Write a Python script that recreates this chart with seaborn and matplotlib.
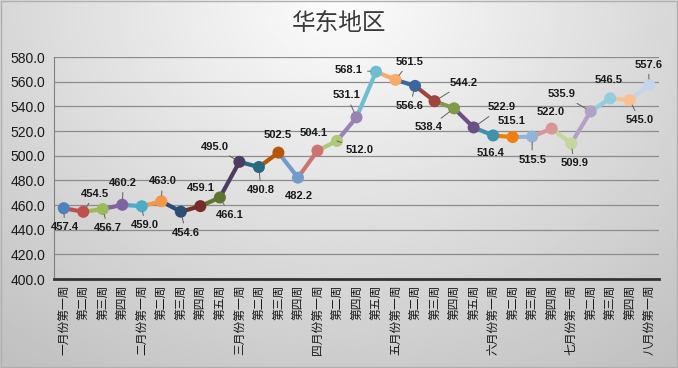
import numpy as np
import pandas as pd
import seaborn as sns
import matplotlib.pyplot as plt

# Datos
semanas = ['一月份第一周', '第二周', '第三周', '第四周',
           '二月份第一周', '第二周', '第三周', '第四周', '第五周',
           '三月份第一周', '第二周', '第三周', '第四周',
           '四月份第一周', '第二周', '第四周', '第五周',
           '五月份第一周', '第二周', '第三周', '第四周', '第五周',
           '六月份第一周', '第二周', '第三周', '第四周',
           '七月份第一周', '第二周', '第三周', '第四周',
           '八月份第一周']
precios = [457.4, 454.5, 456.7, 460.2, 459.0, 463.0, 454.6, 459.1, 466.1,
           495.0, 490.8, 502.5, 482.2, 504.1, 512.0, 531.1, 568.1, 561.5,
           556.6, 544.2, 538.4, 522.9, 516.4, 515.1, 515.5, 522.0, 509.9,
           535.9, 546.5, 545.0, 557.6]
y_ticks = [400, 420, 440, 460, 480, 500, 520, 540, 560, 580]

# Colores tipo Excel "variar colores por punto"
colores = ['#4F81BD', '#C0504D', '#9BBB59', '#8064A2', '#4BACC6', '#F79646',
           '#2C4D75', '#772C2A', '#5F7530', '#4D3B62', '#276A7C', '#B65708',
           '#729ACA', '#CD7371', '#AFC97A', '#9983B5', '#6FBDD1', '#F9AB6B',
           '#3A679C', '#9F4240', '#7F9A48', '#6A5084', '#3F92A9', '#F07F09',
           '#95B3D7', '#D99694', '#C3D69B', '#B2A1C7', '#93CDDD', '#FAC090',
           '#C6D4EA']

# Desplazamiento de las etiquetas (pixeles)
offsets = [(1, -19), (12, 18), (5, -19), (1, 22), (3, -19), (1, 20), (5, -21),
           (0, 18), (10, -17), (-25, 15), (2, -23), (-1, 18), (1, -18), (-4, 18),
           (23, -9), (-10, 22), (-27, 2), (14, 18), (-5, -20), (29, 18),
           (-25, -19), (28, 20), (-3, -18), (-1, 16), (0, -23), (-1, 17),
           (3, -20), (-29, 17), (-2, 18), (10, -20), (-1, 20)]

sns.set_style('white')
plt.rcParams['font.family'] = ['Liberation Sans', 'Noto Sans CJK SC', 'DejaVu Sans']

fig = plt.figure(figsize=(6.78, 3.68), dpi=100)

# Fondo con degradado gris
bg = fig.add_axes([0, 0, 1, 1], zorder=-5)
gx, gy = np.meshgrid(np.linspace(0, 1, 300), np.linspace(0, 1, 200))
r = np.sqrt(((gx - 0.5) / 0.75) ** 2 + (gy / 1.15) ** 2)
bg.imshow(np.clip(0.99 - 0.22 * r, 0, 1), cmap='gray', vmin=0, vmax=1,
          aspect='auto', extent=[0, 1, 1, 0])
bg.plot([0.001, 0.999, 0.999, 0.001, 0.001], [0.002, 0.002, 0.998, 0.998, 0.002],
        color='#b0b0b0', lw=1)
bg.set_xlim(0, 1)
bg.set_ylim(1, 0)
bg.axis('off')

ax = fig.add_axes([0.0796, 0.2418, 0.8924, 0.6032])
ax.patch.set_alpha(0)

n = len(precios)
x = np.arange(n)

# Segmentos: cada tramo lleva el color del punto final
seg = pd.DataFrame({
    'x': np.concatenate([[i, i + 1] for i in range(n - 1)]),
    'y': np.concatenate([[precios[i], precios[i + 1]] for i in range(n - 1)]),
    'seg': np.repeat(np.arange(n - 1), 2),
})
sns.lineplot(data=seg, x='x', y='y', hue='seg', palette=colores[1:], legend=False,
             lw=3, sort=False, ax=ax, zorder=3)
pts = pd.DataFrame({'x': x, 'y': precios, 'p': x})
sns.scatterplot(data=pts, x='x', y='y', hue='p', palette=colores, legend=False,
                s=75, linewidth=0, ax=ax, zorder=4)

for i, v in enumerate(precios):
    dx, dy = offsets[i]
    leader = np.hypot(dx, dy) > 18.5
    ax.annotate(f'{v:.1f}', (i, v), xytext=(dx, dy), textcoords='offset pixels',
                ha='center', va='center', fontsize=8, fontweight='bold', color='#1a1a1a',
                zorder=5,
                arrowprops=dict(arrowstyle='-', color='#606060', lw=0.7,
                                shrinkA=1, shrinkB=4) if leader else None)

ax.set_xlim(-0.5, n - 0.5)
ax.set_ylim(400, 580)
ax.set_yticks(y_ticks)
ax.set_yticklabels([f'{t:.1f}' for t in y_ticks], fontsize=10, color='#1a1a1a')
ax.set_xticks(x)
ax.set_xticklabels(semanas, rotation=90, fontsize=8.5, color='#1a1a1a',
                   family=['Noto Sans CJK SC', 'DejaVu Sans'])
ax.set_xticks(np.arange(-0.5, n, 1), minor=True)
ax.tick_params(axis='x', which='major', length=0, pad=4)
ax.tick_params(axis='x', which='minor', length=4, width=1.2, color='#333333')
ax.tick_params(axis='y', length=4, width=0.8, color='#808080', pad=2)
ax.set_xlabel('')
ax.set_ylabel('')
ax.grid(axis='y', color='#8c8c8c', lw=0.9)
ax.set_axisbelow(True)
for s in ['top', 'right']:
    ax.spines[s].set_visible(False)
ax.spines['left'].set_color('#808080')
ax.spines['bottom'].set_color('#333333')
ax.spines['bottom'].set_linewidth(2)

fig.text(0.5, 0.937, '华东地区', ha='center', va='center', fontsize=17,
         color='#3a3a3a', family=['Noto Sans CJK SC', 'DejaVu Sans'])

fig.savefig('out.png', dpi=100)
